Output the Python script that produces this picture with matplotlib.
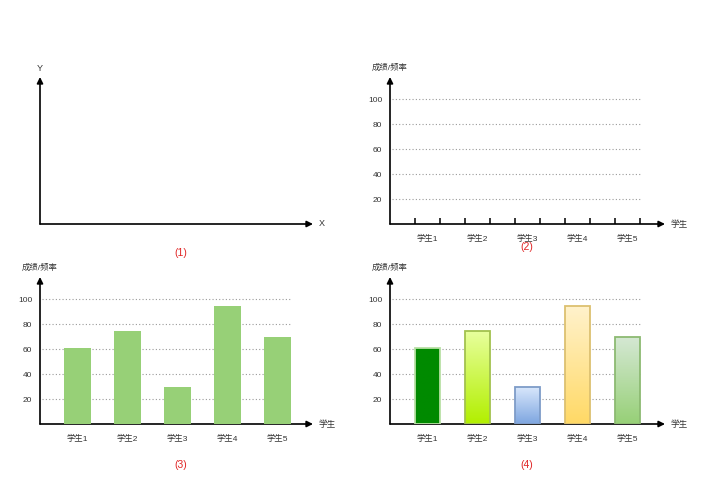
import numpy as np
import matplotlib
matplotlib.use('Agg')
import matplotlib.pyplot as plt
from matplotlib.colors import LinearSegmentedColormap

plt.rcParams['font.family'] = ['Liberation Sans', 'Noto Sans CJK SC', 'DejaVu Sans']

# data
students = ['学生1', '学生2', '学生3', '学生4', '学生5']
scores = [61, 75, 30, 95, 70]
y_ticks = [20, 40, 60, 80, 100]
panel_titles = ['(1)', '(2)', '(3)', '(4)']

# gradient colours for panel 4 (top, bottom, edge)
grad_top = ['#008a00', '#e8ff9e', '#dae8fc', '#fff2cc', '#d5e8d4']
grad_bottom = ['#008a00', '#b2ef00', '#7ea6e0', '#ffd966', '#97d077']
grad_edge = ['#b9e0a5', '#a2c24e', '#7e9cc8', '#dcc070', '#8cba72']

W, H = 703, 487
TEXT = '#333333'


def make_axes(fig, ox, oy, right=275):
    # ox, oy: pixel position of the axis origin (from top-left)
    ax = fig.add_axes([ox / W, (H - oy) / H, right / W, 147 / H])
    ax.set_xlim(-0.75, -0.75 + right / 50)
    ax.set_ylim(0, 118)
    for s in ax.spines.values():
        s.set_visible(False)
    ax.set_xticks([])
    ax.set_yticks([])
    arrow = dict(arrowstyle='-|>', color='black', lw=1.2, mutation_scale=9,
                 shrinkA=0, shrinkB=0)
    ax.annotate('', xy=(1, 0), xytext=(0, 0), xycoords='axes fraction',
                arrowprops=arrow, annotation_clip=False)
    ax.annotate('', xy=(0, 1), xytext=(0, 0), xycoords='axes fraction',
                arrowprops=arrow, annotation_clip=False)
    return ax


def chart_frame(ax, ticks=False):
    ax.hlines(y_ticks, -0.72, 4.25, colors='#9a9a9a', linestyles=(0, (1, 2)), lw=0.8)
    ax.set_xticks(range(len(students)))
    ax.set_xticklabels(students, fontsize=6, color=TEXT)
    ax.set_yticks(y_ticks)
    ax.set_yticklabels([str(v) for v in y_ticks], fontsize=6, color=TEXT)
    ax.tick_params(axis='x', length=0, pad=7.5)
    ax.tick_params(axis='y', length=0, pad=5.5)
    if ticks:
        edges = [i + d for i in range(len(students)) for d in (-0.25, 0.25)]
        ax.set_xticks(edges, minor=True)
        ax.tick_params(axis='x', which='minor', direction='in', length=4.5,
                       width=1.1, color='black')
    ax.annotate('成绩/频率', xy=(0, 1), xycoords='axes fraction', xytext=(0, 4),
                textcoords='offset points', ha='center', va='bottom',
                fontsize=6, color=TEXT, annotation_clip=False)
    ax.annotate('学生', xy=(1, 0), xycoords='axes fraction', xytext=(4, 0),
                textcoords='offset points', ha='left', va='center',
                fontsize=6.2, color=TEXT, annotation_clip=False)


fig = plt.figure(figsize=(W / 100, H / 100), dpi=100)

# (1) empty axes
ax1 = make_axes(fig, 40, 224, right=273)
ax1.annotate('X', xy=(1, 0), xycoords='axes fraction', xytext=(4, 0),
             textcoords='offset points', ha='left', va='center',
             fontsize=6.5, color=TEXT, annotation_clip=False)
ax1.annotate('Y', xy=(0, 1), xycoords='axes fraction', xytext=(0, 3),
             textcoords='offset points', ha='center', va='bottom',
             fontsize=6.5, color=TEXT, annotation_clip=False)

# (2) frame with ticks and grid
ax2 = make_axes(fig, 390, 224)
chart_frame(ax2, ticks=True)

# (3) plain bars
ax3 = make_axes(fig, 40, 424, right=273)
chart_frame(ax3)
ax3.bar(range(len(students)), scores, width=0.53, color='#97d077', zorder=3)

# (4) gradient bars
ax4 = make_axes(fig, 390, 424)
chart_frame(ax4)
bars = ax4.bar(range(len(students)), scores, width=0.5, facecolor='none',
               edgecolor=grad_edge, lw=1.3, zorder=4)
grad = np.linspace(0, 1, 100).reshape(-1, 1)
for rect, top, bottom in zip(bars, grad_top, grad_bottom):
    cmap = LinearSegmentedColormap.from_list('g', [bottom, top])
    x0, w, h = rect.get_x(), rect.get_width(), rect.get_height()
    im = ax4.imshow(grad, extent=[x0, x0 + w, 0, h], origin='lower',
                    aspect='auto', cmap=cmap, zorder=3)
    im.set_clip_path(rect)
ax4.set_xlim(-0.75, 4.75)
ax4.set_ylim(0, 118)

# panel captions
caption_pos = [(181, 253), (527, 247), (181, 465), (527, 465)]
for t, (px, py) in zip(panel_titles, caption_pos):
    fig.text(px / W, 1 - py / H, t, color='#e02424', fontsize=7.5,
             ha='center', va='center')

fig.savefig('out.png', dpi=100)
